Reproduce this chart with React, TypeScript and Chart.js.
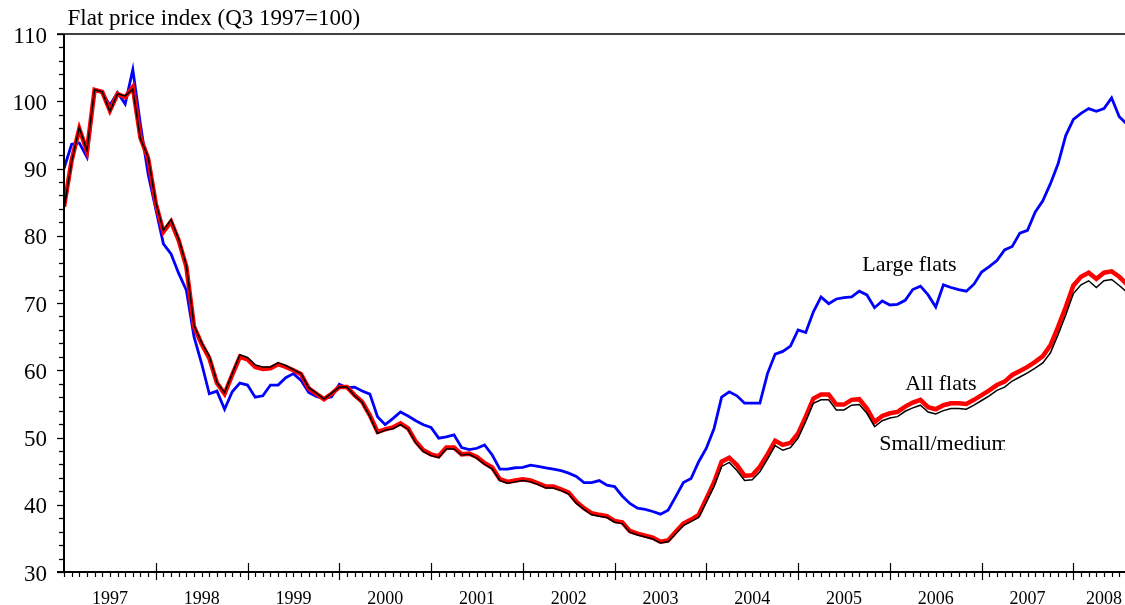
import React, { useEffect, useRef } from 'react';
import { Chart, registerables } from 'chart.js';

Chart.register(...registerables);

const FONT = '"Liberation Serif", "Times New Roman", serif';
const TITLE = 'Flat price index (Q3 1997=100)';

// x axis: month index, 0 = January 1997
const X_MAX = 138.75;
const YEAR_LABELS = ['1997', '1998', '1999', '2000', '2001', '2002', '2003', '2004', '2005', '2006', '2007', '2008'];
const YEAR_LABEL_MONTHS = [6, 18, 30, 42, 54, 66, 78, 90, 102, 114, 126, 136];
const Y_MIN = 30;
const Y_MAX = 110;
const Y_TICKS = [30, 40, 50, 60, 70, 80, 90, 100, 110];

// Large flats (blue), monthly from Jan 1997
const LARGE_FLATS = [
  90.0, 93.6, 93.8, 91.7, 101.6, 101.3, 99.4, 101.3, 99.6, 104.7, 96.5, 89.2,
  84.0, 78.8, 77.3, 74.4, 71.9, 65.0, 61.0, 56.5, 56.9, 54.2, 56.8, 58.1,
  57.8, 56.0, 56.2, 57.8, 57.8, 58.9, 59.5, 58.5, 56.7, 56.1, 55.8, 56.05,
  57.9, 57.4, 57.5, 56.9, 56.45, 53.1, 51.9, 52.8, 53.8, 53.2, 52.5, 51.9,
  51.5, 49.9, 50.1, 50.4, 48.5, 48.2, 48.4, 48.9, 47.4, 45.3, 45.3, 45.5,
  45.55, 45.9, 45.7, 45.5, 45.3, 45.06, 44.7, 44.2, 43.3, 43.3, 43.6, 42.9,
  42.7, 41.3, 40.2, 39.5, 39.3, 39.0, 38.6, 39.2, 41.2, 43.3, 43.9, 46.4,
  48.4, 51.3, 56.0, 56.8, 56.2, 55.1, 55.1, 55.1, 59.5, 62.4, 62.8, 63.6,
  66.0, 65.6, 68.7, 70.9, 69.9, 70.6, 70.8, 70.9, 71.75, 71.2, 69.3, 70.3,
  69.7, 69.8, 70.4, 72.0, 72.5, 71.2, 69.4, 72.7, 72.3, 72.0, 71.75, 72.8,
  74.6, 75.4, 76.3, 77.9, 78.4, 80.4, 80.8, 83.5, 85.2, 87.75, 90.7, 94.9,
  97.3, 98.2, 98.9, 98.5, 98.9, 100.5, 97.7, 96.6,
];

// All flats (red)
const ALL_FLATS = [
  84.3, 91.2, 95.9, 92.6, 101.7, 101.4, 98.6, 101.1, 100.6, 102.1, 94.6, 91.5,
  84.8, 80.6, 82.1, 79.3, 75.4, 66.5, 63.9, 61.8, 58.1, 56.5, 59.3, 62.0,
  61.6, 60.5, 60.2, 60.3, 60.9, 60.5, 60.0, 59.4, 57.3, 56.5, 55.7, 56.5,
  57.5, 57.5, 56.3, 55.3, 53.3, 50.85, 51.2, 51.5, 52.1, 51.35, 49.4, 48.1,
  47.5, 47.2, 48.5, 48.5, 47.5, 47.6, 47.1, 46.2, 45.55, 43.8, 43.4, 43.6,
  43.8, 43.6, 43.2, 42.7, 42.7, 42.3, 41.8, 40.45, 39.5, 38.75, 38.5, 38.3,
  37.6, 37.4, 36.1, 35.7, 35.4, 35.1, 34.5, 34.7, 36.0, 37.2, 37.8, 38.5,
  40.9, 43.3, 46.4, 47.0, 45.9, 44.3, 44.4, 45.65, 47.5, 49.5, 48.9, 49.2,
  50.6, 53.1, 55.8, 56.4, 56.4, 54.9, 54.9, 55.6, 55.7, 54.3, 52.3, 53.2,
  53.6, 53.8, 54.6, 55.2, 55.6, 54.5, 54.2, 54.8, 55.1, 55.1, 55.0, 55.6,
  56.3, 57.0, 57.8, 58.3, 59.3, 59.9, 60.5, 61.25, 62.1, 63.7, 66.45, 69.4,
  72.6, 73.9, 74.5, 73.6, 74.5, 74.7, 73.9, 72.8,
];

// Small/medium flats (black)
const SMALL_MEDIUM = [
  84.0, 91.0, 96.1, 92.7, 101.7, 101.4, 98.5, 101.1, 100.8, 101.8, 94.4, 91.7,
  85.0, 80.8, 82.4, 79.5, 75.6, 66.7, 64.1, 62.1, 58.2, 56.7, 59.5, 62.3,
  61.9, 60.8, 60.5, 60.5, 61.1, 60.7, 60.1, 59.5, 57.4, 56.6, 55.7, 56.6,
  57.5, 57.5, 56.2, 55.2, 53.1, 50.6, 51.1, 51.3, 51.9, 51.2, 49.2, 47.9,
  47.3, 47.0, 48.3, 48.3, 47.4, 47.5, 46.9, 46.0, 45.3, 43.6, 43.2, 43.4,
  43.6, 43.4, 43.0, 42.5, 42.5, 42.1, 41.6, 40.2, 39.3, 38.5, 38.3, 38.1,
  37.4, 37.2, 35.9, 35.5, 35.2, 34.9, 34.3, 34.5, 35.7, 36.9, 37.5, 38.1,
  40.4, 42.7, 45.7, 46.3, 45.1, 43.6, 43.7, 44.9, 46.8, 48.8, 48.1, 48.5,
  49.9, 52.4, 55.1, 55.6, 55.6, 54.1, 54.1, 54.8, 54.9, 53.6, 51.6, 52.5,
  52.9, 53.1, 53.9, 54.4, 54.8, 53.8, 53.5, 54.0, 54.3, 54.3, 54.2, 54.8,
  55.5, 56.2, 57.0, 57.5, 58.4, 59.0, 59.6, 60.3, 61.1, 62.6, 65.3, 68.2,
  71.4, 72.7, 73.3, 72.3, 73.3, 73.5, 72.6, 71.6,
];

// Series annotations anchored in data coordinates (month index, index value)
const SERIES_NOTES = [
  { text: 'Large flats', month: 104.4, value: 74.8, clipMonth: null as number | null },
  { text: 'All flats', month: 110.0, value: 57.1, clipMonth: null as number | null },
  { text: 'Small/medium', month: 106.6, value: 48.1, clipMonth: 123.05 as number | null },
];

const toPoints = (arr: number[]) => arr.map((v, i) => ({ x: i, y: v }));

const axesPlugin = {
  id: 'customAxes',
  afterDatasetsDraw(chart: any) {
    const { ctx, chartArea: ca, scales } = chart;
    const xs = scales.x;
    const ys = scales.y;
    const seg = (x1: number, y1: number, x2: number, y2: number) => {
      ctx.beginPath();
      ctx.moveTo(x1, y1);
      ctx.lineTo(x2, y2);
      ctx.stroke();
    };
    ctx.save();
    ctx.strokeStyle = '#000';
    ctx.lineCap = 'butt';

    // top frame line
    ctx.lineWidth = 1.5;
    seg(ca.left - 7, ca.top, ca.right, ca.top);

    // y ticks (major every 10, minor every 2)
    ctx.lineWidth = 1.3;
    for (let v = Y_MIN; v <= Y_MAX; v += 2) {
      const py = Math.round(ys.getPixelForValue(v)) + 0.5;
      const major = v % 10 === 0;
      seg(ca.left - (major ? 7 : 5), py, ca.left, py);
    }

    // x ticks (monthly, major at year boundaries)
    ctx.lineWidth = 1.2;
    for (let m = 0; m <= X_MAX; m++) {
      const px = Math.round(xs.getPixelForValue(m)) + 0.5;
      if (m % 12 === 0 && m > 0) seg(px, ca.bottom - 9, px, ca.bottom + 8);
      else seg(px, ca.bottom, px, ca.bottom + 5);
    }

    // axis lines
    ctx.lineWidth = 2;
    seg(ca.left, ca.top, ca.left, ca.bottom + 1);
    seg(ca.left - 7, ca.bottom, ca.right, ca.bottom);

    // title
    ctx.fillStyle = '#000';
    ctx.textAlign = 'left';
    ctx.textBaseline = 'alphabetic';
    ctx.font = `23px ${FONT}`;
    ctx.fillText(TITLE, ca.left + 3.5, ca.top - 9);

    // series notes
    ctx.font = `22px ${FONT}`;
    for (const n of SERIES_NOTES) {
      const px = xs.getPixelForValue(n.month);
      const py = ys.getPixelForValue(n.value);
      ctx.save();
      if (n.clipMonth !== null) {
        const cx = xs.getPixelForValue(n.clipMonth);
        ctx.beginPath();
        ctx.rect(px - 5, py - 30, cx - px + 5, 45);
        ctx.clip();
      }
      ctx.fillText(n.text, px, py);
      ctx.restore();
    }
    ctx.restore();
  },
};

export default function App() {
  const ref = useRef<HTMLCanvasElement | null>(null);

  useEffect(() => {
    if (!ref.current) return;
    Chart.defaults.font.family = FONT;
    const chart = new Chart(ref.current, {
      type: 'line',
      data: {
        datasets: [
          {
            label: 'Small/medium',
            data: toPoints(SMALL_MEDIUM),
            borderColor: '#000000',
            borderWidth: 1.5,
            order: 0,
          },
          {
            label: 'All flats',
            data: toPoints(ALL_FLATS),
            borderColor: '#ff0000',
            borderWidth: 4.5,
            order: 1,
          },
          {
            label: 'Large flats',
            data: toPoints(LARGE_FLATS),
            borderColor: '#0000ff',
            borderWidth: 2.8,
            order: 2,
          },
        ],
      },
      options: {
        animation: false,
        responsive: false,
        devicePixelRatio: 1,
        layout: { padding: { top: 34, left: 0, right: 0, bottom: 0 } },
        elements: {
          point: { radius: 0, hoverRadius: 0 },
          line: { tension: 0, fill: false },
        },
        plugins: {
          legend: { display: false },
          title: { display: false },
          tooltip: { enabled: false },
        },
        events: [],
        scales: {
          x: {
            type: 'linear',
            min: 0,
            max: X_MAX,
            grid: { display: false },
            border: { display: false },
            afterBuildTicks: (s: any) => {
              s.ticks = YEAR_LABEL_MONTHS.map((v) => ({ value: v }));
            },
            afterFit: (s: any) => {
              s.height = 33;
              s.paddingLeft = 0;
              s.paddingRight = 0;
            },
            ticks: {
              autoSkip: false,
              maxRotation: 0,
              minRotation: 0,
              padding: 8,
              color: '#000',
              font: { size: 18, family: FONT },
              callback: (_v: any, i: number) => YEAR_LABELS[i],
            },
          },
          y: {
            type: 'linear',
            min: Y_MIN,
            max: Y_MAX,
            grid: { display: false },
            border: { display: false },
            afterBuildTicks: (s: any) => {
              s.ticks = Y_TICKS.map((v) => ({ value: v }));
            },
            afterFit: (s: any) => {
              s.width = 64;
              s.paddingTop = 0;
              s.paddingBottom = 0;
            },
            ticks: {
              padding: 9,
              labelOffset: 2.5,
              color: '#000',
              font: { size: 23, family: FONT },
              callback: (v: any) => String(v),
            },
          },
        },
      },
      plugins: [axesPlugin],
    });
    return () => chart.destroy();
  }, []);

  return (
    <div style={{ position: 'fixed', left: 0, top: 0, width: 1125, height: 605, overflow: 'hidden', background: '#fff' }}>
      <canvas ref={ref} width={1125} height={605} style={{ display: 'block' }} />
    </div>
  );
}
